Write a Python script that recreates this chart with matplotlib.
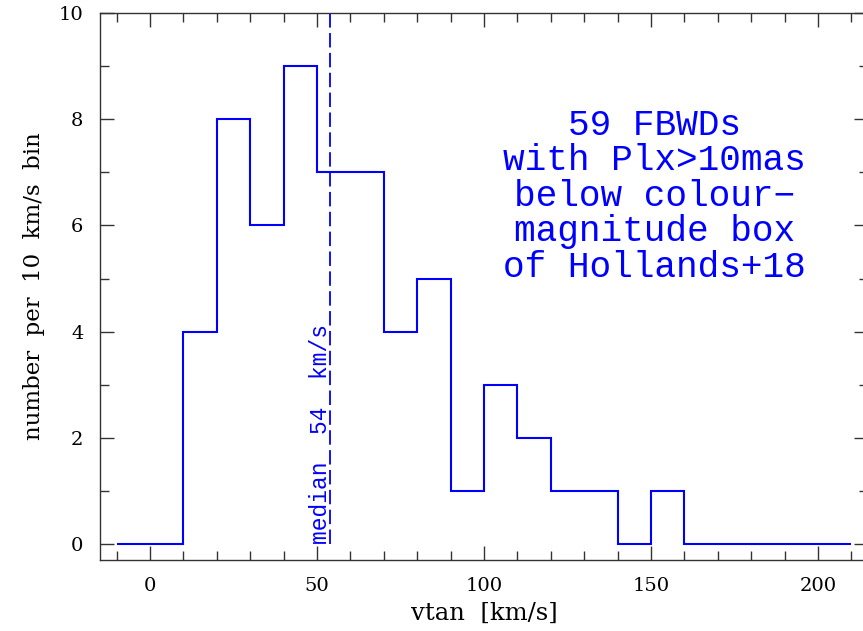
import numpy as np
import matplotlib.pyplot as plt
from matplotlib.ticker import MultipleLocator

# Tangential velocity histogram, 10 km/s bins
bin_edges = np.arange(-10, 211, 10)
counts = [0, 0, 4, 8, 6, 9, 7, 7, 4, 5, 1, 3, 2, 1, 1, 0, 1, 0, 0, 0, 0, 0]
median_vtan = 54

plt.rcParams["font.family"] = ["DejaVu Serif"]

fig = plt.figure(figsize=(8.63, 6.31), dpi=100)
ax = fig.add_axes([0.1159, 0.1125, 0.8899, 0.8669])

ax.stairs(counts, bin_edges, color="blue", lw=1.5)
ax.plot([median_vtan, median_vtan], [0, 10], color="blue", lw=1.3,
        dashes=(8, 3))
ax.text(median_vtan - 1.0, 0, "median  54  km/s", rotation=90,
        rotation_mode="anchor", ha="left", va="baseline",
        color="blue", fontsize=16.5, family="Liberation Mono")

ax.text(0.722, 0.665,
        "59 FBWDs\nwith Plx>10mas\nbelow colour\u2212\nmagnitude box\nof Hollands+18",
        transform=ax.transAxes, ha="center", va="center", color="blue",
        fontsize=26, family="Liberation Mono", linespacing=1.02)

ax.set_xlim(-15, 215)
ax.set_ylim(-0.3, 10)
ax.xaxis.set_major_locator(MultipleLocator(50))
ax.xaxis.set_minor_locator(MultipleLocator(10))
ax.yaxis.set_major_locator(MultipleLocator(2))
ax.yaxis.set_minor_locator(MultipleLocator(1))
ax.tick_params(which="both", direction="in", top=True, right=True,
               labelsize=14, color="#333333", width=1)
ax.tick_params(which="major", length=10, pad=12)
ax.tick_params(which="minor", length=6.5)
for s in ax.spines.values():
    s.set_color("#333333")
    s.set_linewidth(1)

ax.set_xlabel("vtan  [km/s]", fontsize=17.5, labelpad=5)
ax.set_ylabel("number  per  10  km/s  bin", fontsize=16.5, labelpad=10)

fig.savefig("out.png", dpi=100)
